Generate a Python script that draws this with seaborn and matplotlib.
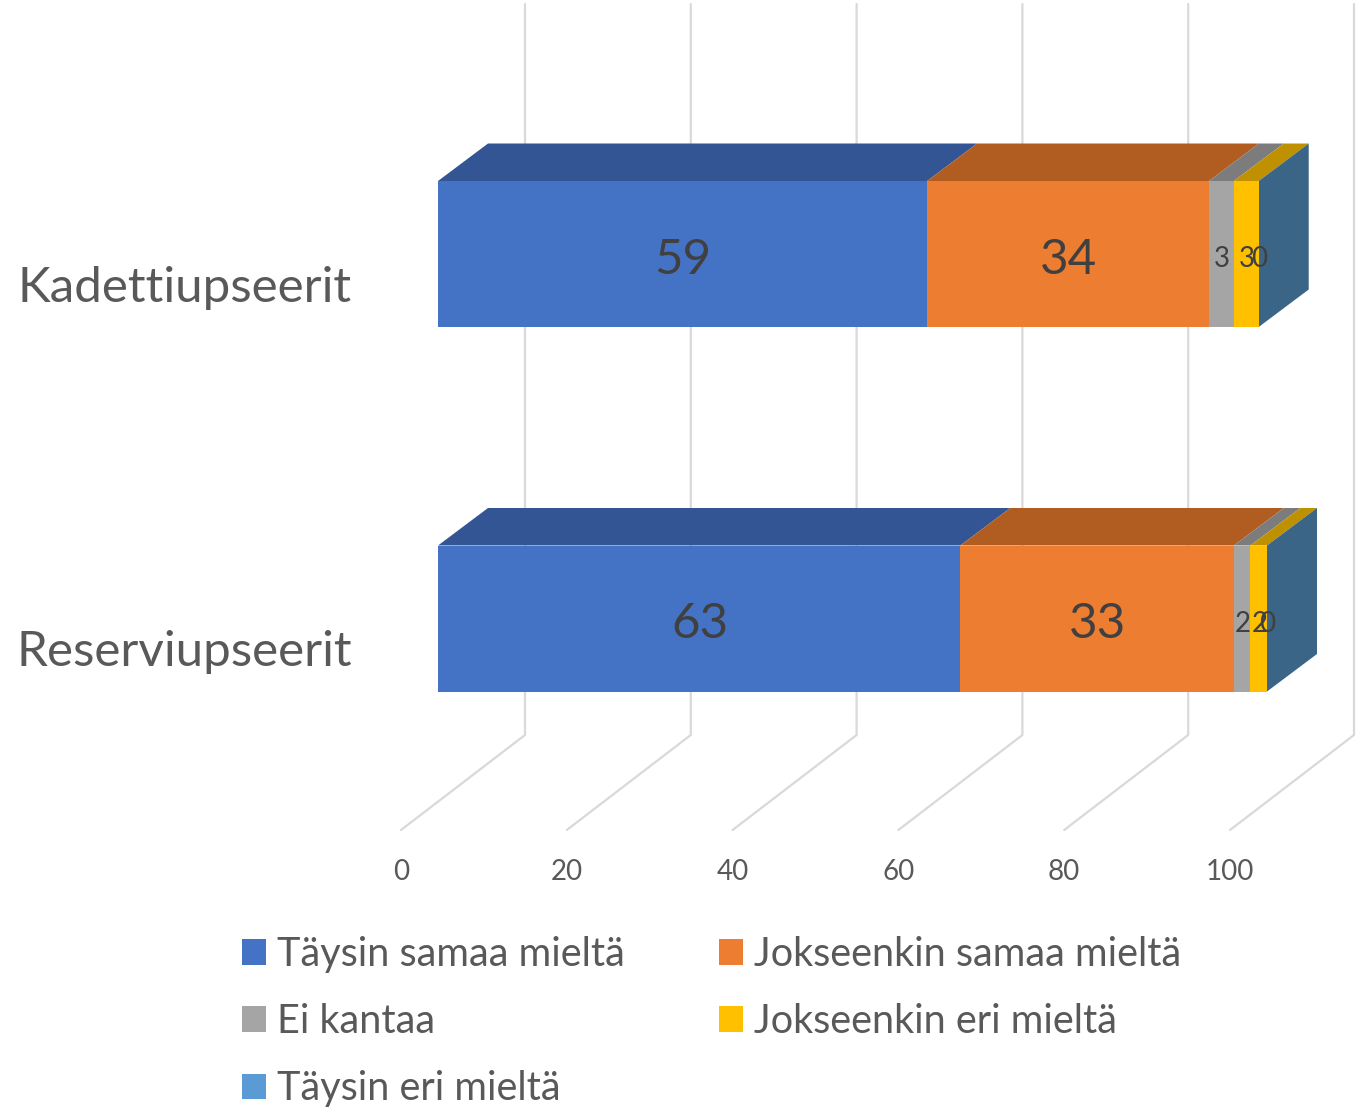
import matplotlib
matplotlib.use("Agg")
import matplotlib.pyplot as plt
from matplotlib.patches import Patch, Polygon
import pandas as pd
import seaborn as sns

categories = ["Kadettiupseerit", "Reserviupseerit"]
series_names = ["Täysin samaa mieltä", "Jokseenkin samaa mieltä", "Ei kantaa",
                "Jokseenkin eri mieltä", "Täysin eri mieltä"]
taysin_samaa = [59, 63]
jokseenkin_samaa = [34, 33]
ei_kantaa = [3, 2]
jokseenkin_eri = [3, 2]
taysin_eri = [0, 0]
x_ticks = [0, 20, 40, 60, 80, 100]

colors = ["#4472C4", "#ED7D31", "#A5A5A5", "#FFC000", "#5B9BD5"]
top_colors = ["#335593", "#B15D22", "#7C7C7C", "#BF9000", "#44749F"]
side_color = "#3A6587"
GREY = "#595959"
LABEL = "#404040"
GRID = "#D9D9D9"

W, H = 1358, 1107
sns.set_theme(style="white")
plt.rcParams["font.family"] = ["Lato", "DejaVu Sans"]

PX = 8.29                      # pixels per value unit
X0 = 438.0                     # pixel of value 0 on the bars' front plane
Y0, SPACING = 254.0, 364.5     # pixel of first category, pixels between categories

fig = plt.figure(figsize=(W / 100, H / 100), dpi=100, facecolor="white")
ax = fig.add_axes([0, 0, 1, 1])

values = [taysin_samaa, jokseenkin_samaa, ei_kantaa, jokseenkin_eri, taysin_eri]
df = pd.DataFrame({"cat": categories})
left = [0.0, 0.0]
lefts = []
for name, vals, col in zip(series_names, values, colors):
    df["v"] = vals
    df["l"] = left
    sns.barplot(data=df, y="cat", x="v", left=df["l"].to_numpy(), color=col, saturation=1,
                width=146 / SPACING, orient="h", ax=ax, zorder=3, linewidth=0, errorbar=None)
    lefts.append(list(left))
    left = [a + b for a, b in zip(left, vals)]
totals = left

ax.set_xlim(-X0 / PX, (W - X0) / PX)
ax.set_ylim((H - Y0) / SPACING, -Y0 / SPACING)
ax.axis("off")

# depth of the 3-D box, in data units
bar_dx, bar_dy = 50 / PX, 37.5 / SPACING
half = 73 / SPACING
floor_front_dx, floor_front_dy = -37 / PX, (830 - Y0) / SPACING
floor_back_dx, floor_back_dy = (525 - X0) / PX, (735 - Y0) / SPACING
wall_top = (4 - Y0) / SPACING

for t in x_ticks:
    ax.plot([t + floor_front_dx, t + floor_back_dx, t + floor_back_dx],
            [floor_front_dy, floor_back_dy, wall_top],
            color=GRID, lw=1.6, zorder=1, solid_joinstyle="miter")
    ax.text(t + floor_front_dx, (872 - Y0) / SPACING, str(t), ha="center", va="center",
            fontsize=20, color=GREY)

for i, cat in enumerate(categories):
    top, bot = i - half, i + half
    for j, vals in enumerate(values):
        a = lefts[j][i]
        b = a + vals[i]
        if vals[i] > 0:
            ax.add_patch(Polygon([(a, top), (b, top), (b + bar_dx, top - bar_dy), (a + bar_dx, top - bar_dy)],
                                 closed=True, fc=top_colors[j], ec="none", zorder=2.5))
    end = totals[i]
    ax.add_patch(Polygon([(end, top), (end + bar_dx, top - bar_dy), (end + bar_dx, bot - bar_dy), (end, bot)],
                         closed=True, fc=side_color, ec="none", zorder=2.5))
    for j, vals in enumerate(values):
        size = 35.5 if vals[i] > 10 else 20
        dy = 6 if vals[i] > 10 else 5
        ax.text(lefts[j][i] + vals[i] / 2 + 0.08, i + dy / SPACING, str(vals[i]), ha="center", va="center",
                fontsize=size, color=LABEL, zorder=5)
    ax.text(-(X0 - 352) / PX, i + 34 / SPACING, cat, ha="right", va="center", fontsize=35.6, color=GREY)

order = [0, 2, 4, 1, 3]
handles = [Patch(fc=colors[k], ec="none", label=series_names[k]) for k in order]
ax.legend(handles=handles, ncols=2, loc="upper left", bbox_to_anchor=(242 / W, 1 - 936 / H),
          bbox_transform=fig.transFigure, frameon=False, fontsize=28.5, labelcolor=GREY,
          handlelength=0.606, handleheight=0.606, handletextpad=0.28, labelspacing=0.76,
          columnspacing=2.38, borderpad=0, borderaxespad=0)

fig.savefig("out.png", dpi=100, facecolor="white")
